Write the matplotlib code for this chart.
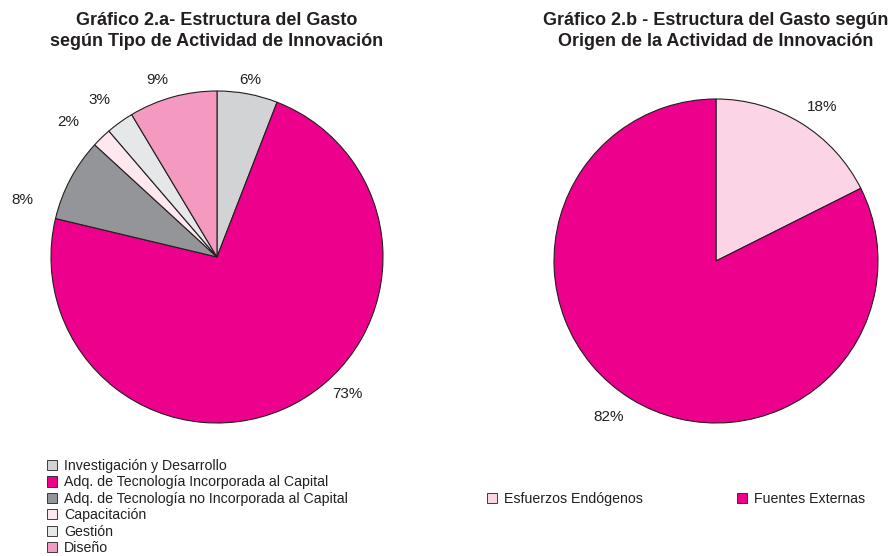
import matplotlib
matplotlib.use("Agg")
import matplotlib.pyplot as plt

plt.rcParams['font.family'] = ['Liberation Sans', 'DejaVu Sans']

# ---- data ----
tipos = ["Investigación y Desarrollo",
         "Adq. de Tecnología Incorporada al Capital",
         "Adq. de Tecnología no Incorporada al Capital",
         "Capacitación", "Gestión", "Diseño"]
gasto_tipo = [5.9, 72.9, 8.1, 1.9, 2.7, 8.6]
colores_tipo = ["#d1d3d4", "#ec008c", "#939598", "#fde8ef", "#e6e7e8", "#f49ac1"]

origen = ["Esfuerzos Endógenos", "Fuentes Externas"]
gasto_origen = [17.6, 82.4]
colores_origen = ["#fbd5e5", "#ec008c"]

titulo_a = "Gráfico 2.a- Estructura del Gasto\nsegún Tipo de Actividad de Innovación"
titulo_b = "Gráfico 2.b - Estructura del Gasto según\nOrigen de la Actividad de Innovación"

# label placement (layout, in units of pie radius)
pos_lab_a = [(0.199, 1.066), (0.783, -0.825), (-1.175, 0.343),
             (-0.898, 0.813), (-0.711, 0.946), (-0.361, 1.066)]
pos_lab_b = [(0.654, 0.951), (-0.660, -0.963)]

W, H = 895, 556
fig = plt.figure(figsize=(W / 100, H / 100), dpi=100)
TXT = "#231f20"


def pct_labels(vals):
    s = sum(vals)
    return [f"{v / s * 100:.0f}%" for v in vals]


def make_axes(cx, cy, r):
    side = 2.4 * r
    return fig.add_axes([(cx - side / 2) / W, (H - cy - side / 2) / H, side / W, side / H])


def finish(ax, texts, pos):
    ax.set_xlim(-1.2, 1.2)
    ax.set_ylim(-1.2, 1.2)
    ax.set_aspect('equal')
    ax.axis('off')
    for t, p in zip(texts, pos):
        t.set_position(p)
        t.set_ha('center')
        t.set_va('center')


ax1 = make_axes(217, 257, 166)
w1, t1 = ax1.pie(gasto_tipo, colors=colores_tipo, labels=pct_labels(gasto_tipo),
                 startangle=90, counterclock=False,
                 wedgeprops=dict(edgecolor="#231f20", linewidth=0.8),
                 textprops=dict(fontsize=11, color=TXT))
finish(ax1, t1, pos_lab_a)

ax2 = make_axes(716, 261, 162)
w2, t2 = ax2.pie(gasto_origen, colors=colores_origen, labels=pct_labels(gasto_origen),
                 startangle=90, counterclock=False,
                 wedgeprops=dict(edgecolor="#231f20", linewidth=0.8),
                 textprops=dict(fontsize=11, color=TXT))
finish(ax2, t2, pos_lab_b)

fig.text(217 / W, 1 - 31 / H, titulo_a, ha='center', va='center', fontsize=13,
         fontweight='bold', color=TXT, linespacing=1.3)
fig.text(716 / W, 1 - 31 / H, titulo_b, ha='center', va='center', fontsize=13,
         fontweight='bold', color=TXT, linespacing=1.3)

leg1 = fig.legend(w1, tipos, loc='upper left', bbox_to_anchor=(47 / W, 1 - 459 / H),
                  frameon=False, handlelength=0.72, handleheight=0.72, handletextpad=0.5,
                  labelspacing=0.17, borderpad=0, borderaxespad=0,
                  prop=dict(size=10.2))
for t in leg1.get_texts():
    t.set_color(TXT)
for h in leg1.legend_handles:
    h.set_linewidth(0.6)

leg2 = fig.legend(w2, origen, loc='center left', bbox_to_anchor=(487 / W, 1 - 499 / H),
                  frameon=False, ncol=2, handlelength=0.72, handleheight=0.72,
                  handletextpad=0.5, columnspacing=6.6, borderpad=0, borderaxespad=0,
                  prop=dict(size=10.2))
for t in leg2.get_texts():
    t.set_color(TXT)
for h in leg2.legend_handles:
    h.set_linewidth(0.6)

fig.savefig("out.png", dpi=100)
